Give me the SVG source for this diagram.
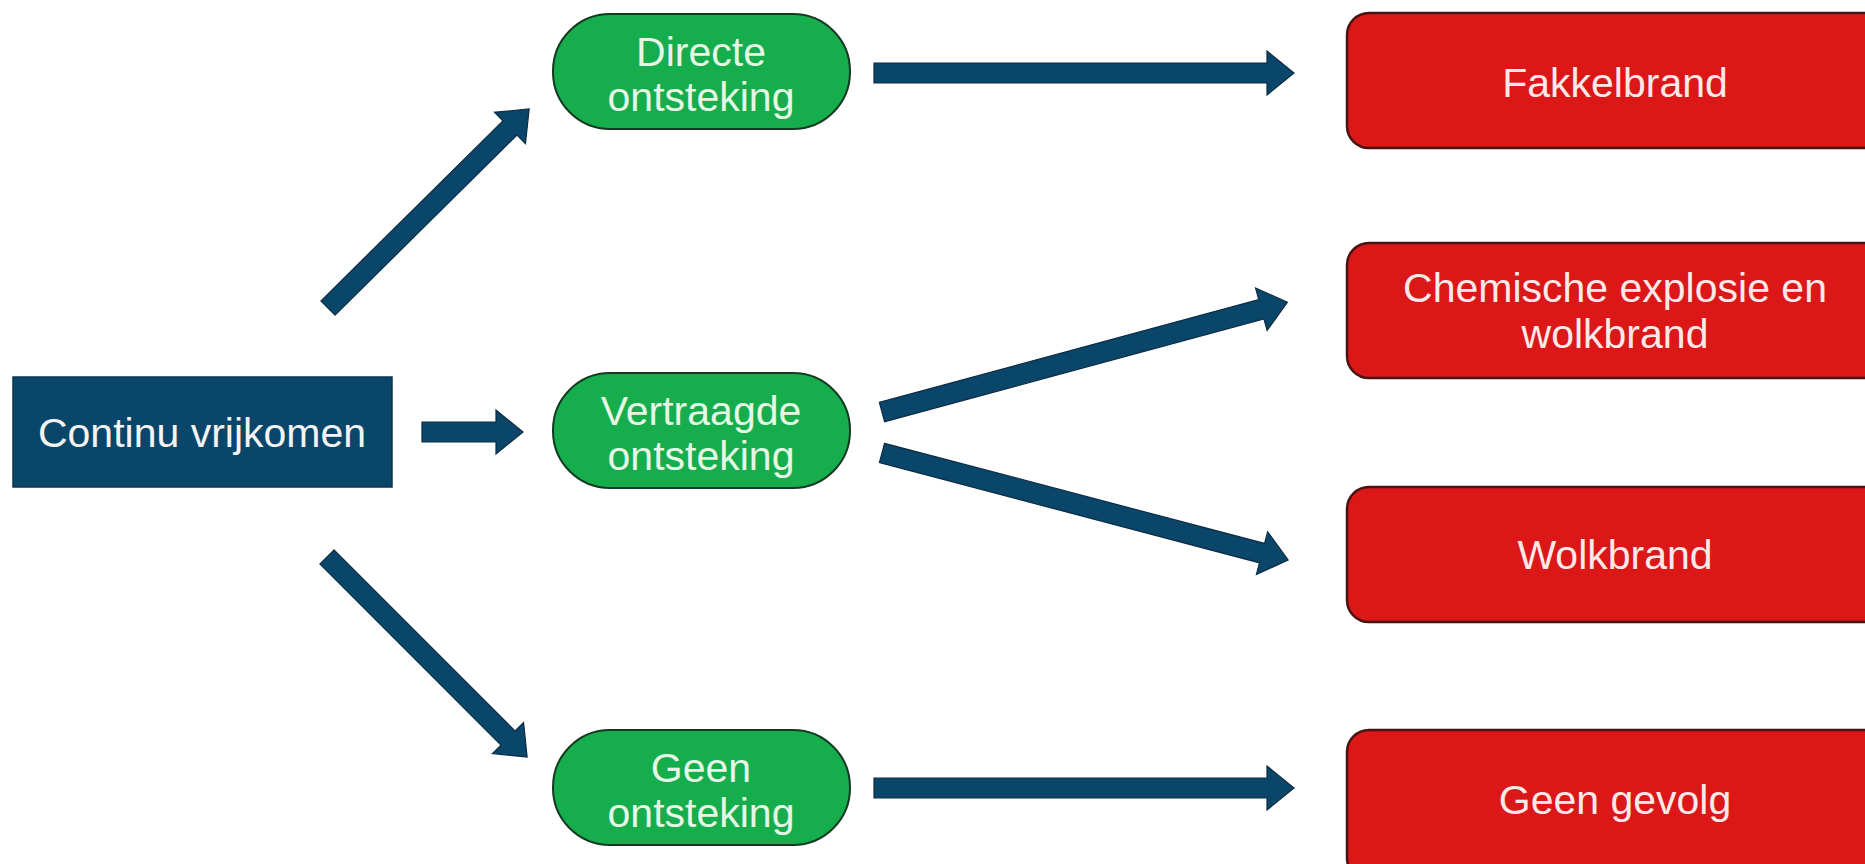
<svg xmlns="http://www.w3.org/2000/svg" width="1865" height="864" viewBox="0 0 1865 864">
  <style>
    .lbl { font-family: "Liberation Sans", Arial, sans-serif; font-size: 41px; fill: #f4f4f4; text-anchor: middle; }
    .start { fill: #0a4669; stroke: #0a3550; stroke-width: 1.5; }
    .pill { fill: #16ad4c; stroke: #123a22; stroke-width: 2; }
    .pill-t { fill: #e6f7e6; }
    .res { fill: #dc1717; stroke: #4a1212; stroke-width: 2.5; }
    .res-t { fill: #fbe9e9; }
    .arr { fill: #0a4669; stroke: #0b2c44; stroke-width: 1.2; }
  </style>
  <rect width="1865" height="864" fill="#ffffff"/>

  <g id="connectors">
    <path class="arr" transform="translate(422,432)" d="M0,-10 H74 V-22 L101,0 L74,22 V10 H0 Z"/>
    <path class="arr" transform="translate(874,73)" d="M0,-10 H393 V-22 L420,0 L393,22 V10 H0 Z"/>
    <path class="arr" transform="translate(874,788)" d="M0,-10 H393 V-22 L420,0 L393,22 V10 H0 Z"/>
    <path class="arr" transform="translate(328,308) rotate(-44.7)" d="M0,-10 H256 V-22 L283,0 L256,22 V10 H0 Z"/>
    <path class="arr" transform="translate(327,557) rotate(45)" d="M0,-10 H256 V-22 L283,0 L256,22 V10 H0 Z"/>
    <path class="arr" transform="translate(882,412) rotate(-15.16)" d="M0,-10 H393 V-22 L420,0 L393,22 V10 H0 Z"/>
    <path class="arr" transform="translate(882,453) rotate(14.76)" d="M0,-10 H393 V-22 L420,0 L393,22 V10 H0 Z"/>
  </g>

  <g id="continu">
    <rect class="start" x="13" y="377" width="379" height="110"/>
    <text class="lbl" x="202" y="447">Continu vrijkomen</text>
  </g>

  <g id="directe">
    <rect class="pill" x="553" y="14" width="297" height="115" rx="57" ry="57"/>
    <text class="lbl pill-t" x="701" y="66">Directe</text>
    <text class="lbl pill-t" x="701" y="111">ontsteking</text>
  </g>

  <g id="vertraagde">
    <rect class="pill" x="553" y="373" width="297" height="115" rx="57" ry="57"/>
    <text class="lbl pill-t" x="701" y="425">Vertraagde</text>
    <text class="lbl pill-t" x="701" y="470">ontsteking</text>
  </g>

  <g id="geen">
    <rect class="pill" x="553" y="730" width="297" height="115" rx="57" ry="57"/>
    <text class="lbl pill-t" x="701" y="782">Geen</text>
    <text class="lbl pill-t" x="701" y="827">ontsteking</text>
  </g>

  <g id="fakkelbrand">
    <rect class="res" x="1347" y="13" width="545" height="135" rx="22" ry="22"/>
    <text class="lbl res-t" x="1615" y="97">Fakkelbrand</text>
  </g>

  <g id="chemische">
    <rect class="res" x="1347" y="243" width="545" height="135" rx="22" ry="22"/>
    <text class="lbl res-t" x="1615" y="302">Chemische explosie en</text>
    <text class="lbl res-t" x="1615" y="348">wolkbrand</text>
  </g>

  <g id="wolkbrand">
    <rect class="res" x="1347" y="487" width="545" height="135" rx="22" ry="22"/>
    <text class="lbl res-t" x="1615" y="569">Wolkbrand</text>
  </g>

  <g id="geengevolg">
    <rect class="res" x="1347" y="730" width="545" height="150" rx="22" ry="22"/>
    <text class="lbl res-t" x="1615" y="814">Geen gevolg</text>
  </g>
</svg>
